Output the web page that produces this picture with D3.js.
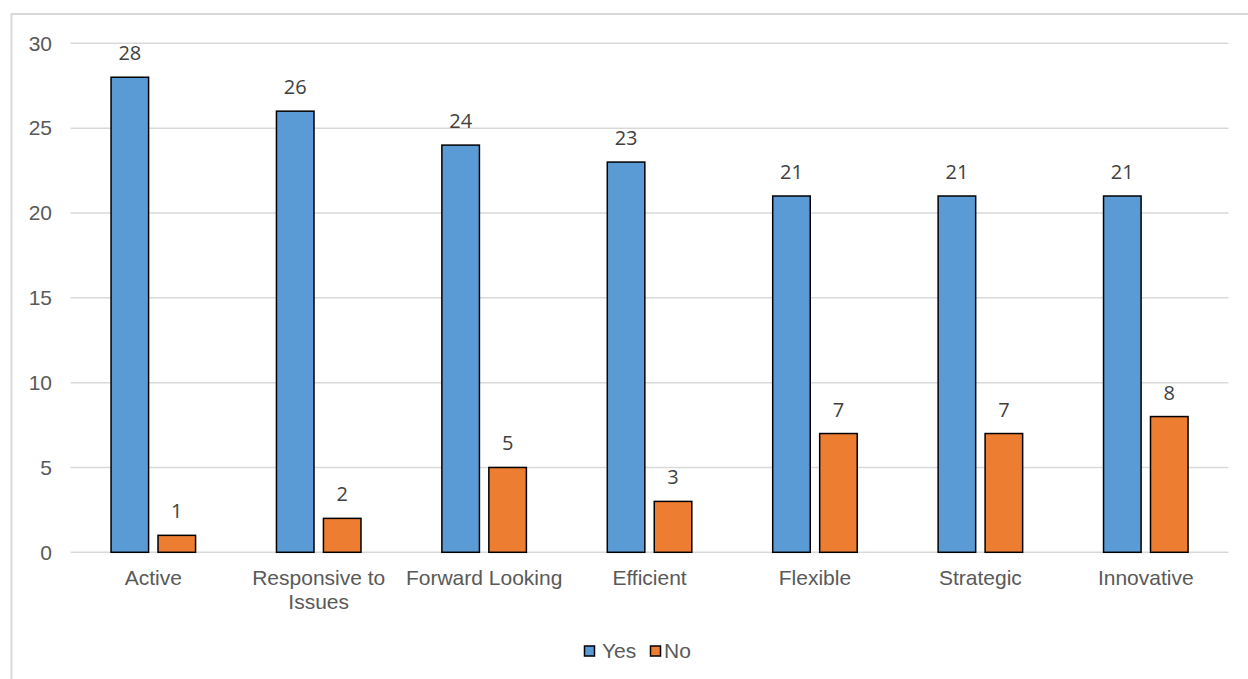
<!DOCTYPE html>
<html>
<head>
<meta charset="utf-8">
<script src="https://cdn.jsdelivr.net/npm/d3@7"></script>
<style>
  html, body { margin: 0; padding: 0; background: #fff; }
  svg { display: block; }
</style>
</head>
<body>
<svg id="chart" width="1248" height="679"></svg>
<script>
const categories = ["Active", "Responsive to Issues", "Forward Looking", "Efficient", "Flexible", "Strategic", "Innovative"];
const seriesNames = ["Yes", "No"];
const yesValues = [28, 26, 24, 23, 21, 21, 21];
const noValues = [1, 2, 5, 3, 7, 7, 8];
const yTicks = [0, 5, 10, 15, 20, 25, 30];
const colors = ["#5B9BD5", "#ED7D31"];

(function () {
const svg = d3.select("#chart");

// chart border
svg.append("rect")
  .attr("x", 11.5).attr("y", 14)
  .attr("width", 1260).attr("height", 700)
  .attr("fill", "none").attr("stroke", "#d9d9d9").attr("stroke-width", 2);

const pLeft = 70.6, pRight = 1228.5, pTop = 43.3, pBottom = 552.3;

const x = d3.scaleBand().domain(categories).range([pLeft, pRight]).paddingInner(0).paddingOuter(0);
const y = d3.scaleLinear().domain([0, 30]).range([pBottom, pTop]);

const barW = x.bandwidth() * 0.227;
const gap = x.bandwidth() * 0.057;
const x1 = d3.scaleOrdinal().domain(seriesNames).range([-(gap / 2 + barW), gap / 2]);

// gridlines
svg.append("g").selectAll("line").data(yTicks).join("line")
  .attr("x1", pLeft).attr("x2", pRight)
  .attr("y1", d => y(d)).attr("y2", d => y(d))
  .attr("stroke", "#d9d9d9").attr("stroke-width", 1.5);

// y tick labels
svg.append("g").selectAll("text").data(yTicks).join("text")
  .attr("x", 52).attr("y", d => y(d))
  .attr("dy", "0.35em")
  .attr("text-anchor", "end")
  .attr("font-family", "Liberation Sans, Arial, sans-serif")
  .attr("font-size", 21)
  .attr("fill", "#595959")
  .text(d => d);

const data = categories.map((c, i) => ({ cat: c, vals: [
  { s: "Yes", v: yesValues[i] },
  { s: "No", v: noValues[i] }
]}));

const groups = svg.append("g").selectAll("g").data(data).join("g")
  .attr("transform", d => `translate(${x(d.cat) + x.bandwidth() / 2},0)`);

groups.selectAll("rect").data(d => d.vals).join("rect")
  .attr("x", d => x1(d.s))
  .attr("y", d => y(d.v))
  .attr("width", barW)
  .attr("height", d => y(0) - y(d.v))
  .attr("fill", (d, i) => colors[i])
  .attr("stroke", "#000")
  .attr("stroke-width", 1.5);

groups.selectAll("text.val").data(d => d.vals).join("text")
  .attr("class", "val")
  .attr("x", d => x1(d.s) + barW / 2)
  .attr("y", d => y(d.v) - 17)
  .attr("text-anchor", "middle")
  .attr("font-family", "Open Sans, sans-serif")
  .attr("font-size", 20)
  .attr("fill", "#404040")
  .text(d => d.v);

// category labels (wrapped like the original)
const catLines = {
  "Responsive to Issues": ["Responsive to", "Issues"]
};
const xAxis = svg.append("g");
categories.forEach(c => {
  const lines = catLines[c] || [c];
  const t = xAxis.append("text")
    .attr("x", x(c) + x.bandwidth() / 2)
    .attr("y", 585)
    .attr("text-anchor", "middle")
    .attr("font-family", "Liberation Sans, Arial, sans-serif")
    .attr("font-size", 21)
    .attr("fill", "#595959");
  lines.forEach((l, i) => {
    t.append("tspan").attr("x", x(c) + x.bandwidth() / 2).attr("dy", i === 0 ? 0 : 23.5).text(l);
  });
});

// legend
const legend = svg.append("g");
const legendItems = [
  { name: "Yes", color: colors[0], sx: 584.5, tx: 602 },
  { name: "No", color: colors[1], sx: 650.5, tx: 664 }
];
legendItems.forEach(d => {
  legend.append("rect")
    .attr("x", d.sx).attr("y", 646)
    .attr("width", 10).attr("height", 10)
    .attr("fill", d.color).attr("stroke", "#000").attr("stroke-width", 1.5);
  legend.append("text")
    .attr("x", d.tx).attr("y", 651)
    .attr("dy", "0.35em")
    .attr("font-family", "Liberation Sans, Arial, sans-serif")
    .attr("font-size", 21)
    .attr("fill", "#595959")
    .text(d.name);
});
})();
</script>
</body>
</html>
